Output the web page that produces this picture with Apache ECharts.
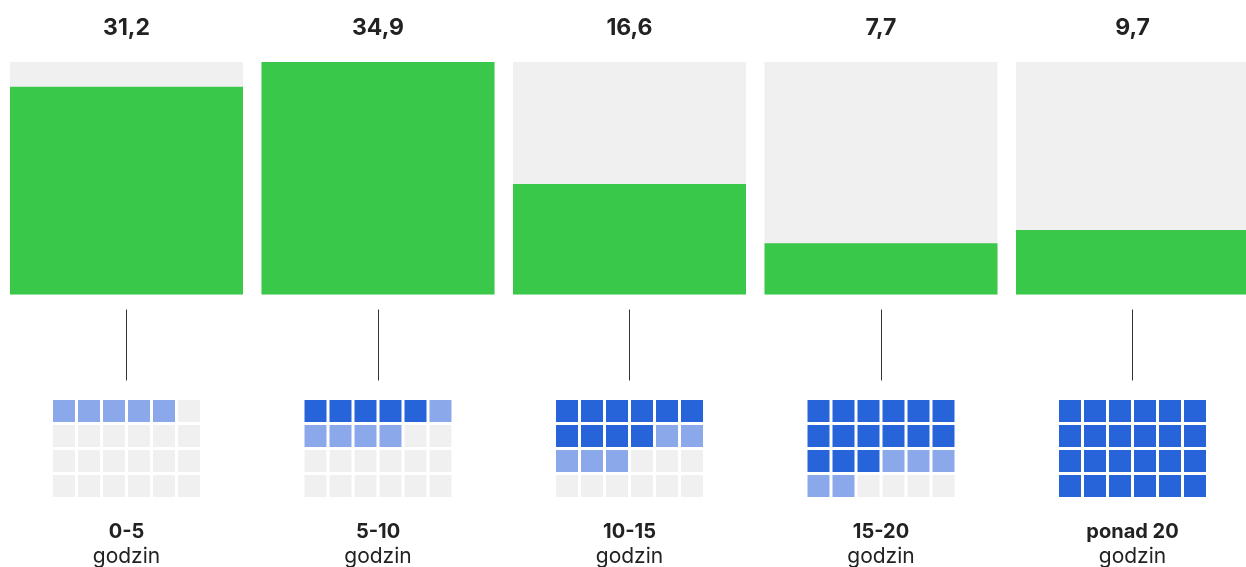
<!DOCTYPE html>
<html>
<head>
<meta charset="utf-8">
<script src="https://cdn.jsdelivr.net/npm/echarts@6/dist/echarts.min.js"></script>
<style>
  html, body { margin: 0; padding: 0; background: #ffffff; }
  #main { width: 1246px; height: 567px; }
</style>
</head>
<body>
<div id="main"></div>
<script>
// dane
const categories = ['0-5', '5-10', '10-15', '15-20', 'ponad 20'];
const shares = [31.2, 34.9, 16.6, 7.7, 9.7];
// kratki: ile pełnych godzin (ciemne) i do ilu godzin (jasne)
const fullCells = [0, 5, 10, 15, 24];
const rangeCells = [5, 10, 15, 20, 24];
const waffleCols = ['1', '2', '3', '4', '5', '6'];
const waffleRows = ['1', '2', '3', '4'];

const chart = echarts.init(document.getElementById('main'));

const font = 'Inter, "Noto Sans", sans-serif';
const gridLeft = 0.75;
const band = 251.5;

let grids = [{ left: gridLeft, top: 62, width: band * 5, height: 232.5, outerBoundsMode: 'none', containLabel: false }];
let xAxes = [
  { //wartości na górze
    type: 'category', gridIndex: 0, position: 'top', data: shares.map(v => String(v).replace('.', ',')),
    axisLine: { show: false }, axisTick: { show: false },
    axisLabel: { margin: 22, fontFamily: font, fontWeight: 'bold', fontSize: 23, color: '#222' }
  },
  { //kreski i podpisy
    type: 'category', gridIndex: 0, position: 'bottom', offset: 15, data: categories,
    axisLine: { show: false },
    axisTick: { show: true, alignWithLabel: true, length: 71, lineStyle: { color: '#333', width: 1 } },
    axisLabel: {
      margin: 210,
      formatter: v => '{b|' + v + '}\n{n|godzin}',
      rich: {
        b: { fontFamily: font, fontWeight: 'bold', fontSize: 20, color: '#222', lineHeight: 25 },
        n: { fontFamily: font, fontSize: 21, color: '#222', lineHeight: 25 }
      }
    }
  }
];
let yAxes = [{ type: 'value', gridIndex: 0, min: 0, max: 'dataMax', show: false }];
let series = [{
  type: 'bar', xAxisIndex: 1, yAxisIndex: 0, data: shares, barWidth: 233,
  itemStyle: { color: '#3ac84a' },
  showBackground: true, backgroundStyle: { color: '#f0f0f0', opacity: 1 }
}];

// kratki godzin
categories.forEach((c, i) => {
  const center = gridLeft + band * (i + 0.5);
  grids.push({ left: center - 75, top: 398.5, width: 150, height: 100, outerBoundsMode: 'none', containLabel: false });
  xAxes.push({ type: 'category', gridIndex: i + 1, data: waffleCols, show: false });
  yAxes.push({ type: 'category', gridIndex: i + 1, data: waffleRows, inverse: true, show: false });
  let cells = [];
  for (let k = 0; k < waffleCols.length * waffleRows.length; k++) {
    let color = '#f0f0f0';
    if (k < fullCells[i]) color = '#2763d9';
    else if (k < rangeCells[i]) color = '#8aa8ea';
    cells.push({ value: [k % 6, Math.floor(k / 6)], itemStyle: { color: color, opacity: 1 } });
  }
  series.push({
    type: 'scatter', xAxisIndex: i + 2, yAxisIndex: i + 1,
    symbol: 'rect', symbolSize: 22, data: cells, silent: true,
    itemStyle: { opacity: 1 }
  });
});

chart.setOption({
  backgroundColor: '#ffffff',
  animation: false,
  grid: grids,
  xAxis: xAxes,
  yAxis: yAxes,
  series: series
});
</script>
</body>
</html>
